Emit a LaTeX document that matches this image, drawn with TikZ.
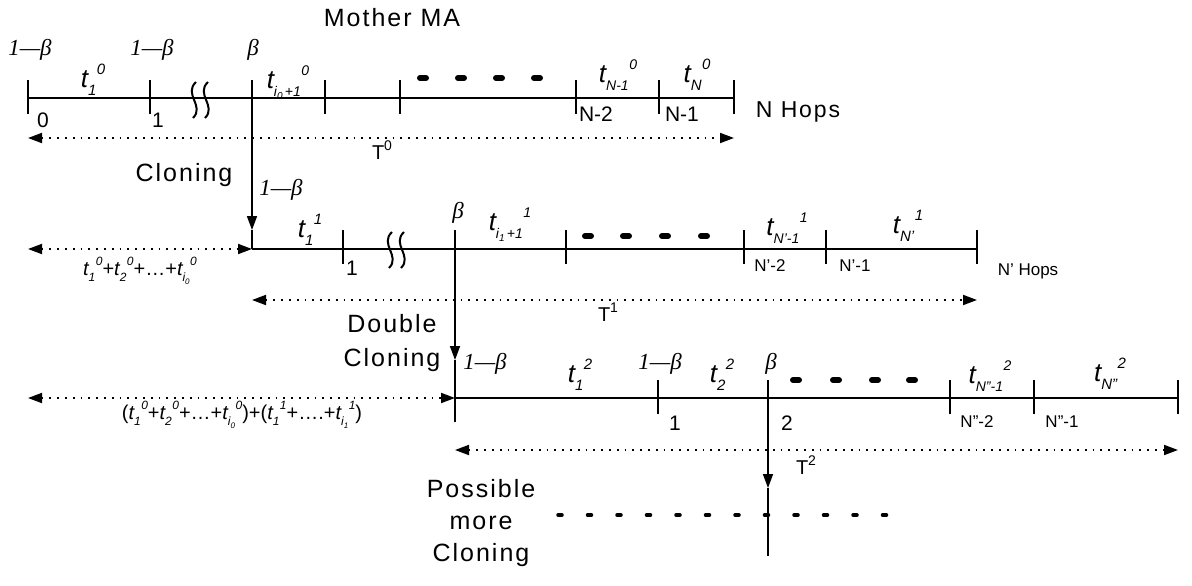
\documentclass[tikz,border=0pt]{standalone}
\usepackage{fontspec}
\setmainfont{Liberation Sans}
\newfontfamily\spaced[LetterSpace=8]{Liberation Sans}
\newfontfamily\serif{Liberation Serif}
\usetikzlibrary{arrows.meta}

\newcommand\fs[1]{\fontsize{#1}{#1}\selectfont}
% italic hop time: t, lowered index, raised stage number
\newcommand\tsub[3]{{\itshape t\raisebox{-0.3em}{\fs{#1}#2}\kern0.5pt\raisebox{0.5em}{\fs{#1}#3}}}
% total time with stage number
\newcommand\Ttot[1]{T\raisebox{0.45em}{\fs{14}#1}}
\newcommand\bet{{\serif\itshape β}}
\newcommand\omb{{\serif\itshape 1—β}}

\tikzset{pics/breakmark/.style={code={
  \foreach \dx in {-6,6}
    \draw[line width=2pt] (\dx+3,-18) .. controls (\dx-10,-6) and (\dx+12,6) .. (\dx,18);
}}}

\begin{document}
\begin{tikzpicture}[x=1pt,y=-1pt,
  timeline/.style={line width=2.4pt},
  tickmark/.style={line width=1.4pt},
  drop/.style={line width=1.6pt},
  span/.style={line width=1.8pt, dash pattern=on 1.8pt off 6pt,
    {Triangle[length=14pt,width=10pt]}-{Triangle[length=14pt,width=10pt]}},
  bar/.style={line width=6pt, line cap=round},
  lbl/.style={inner sep=0pt, font=\spaced\fs{25}},
  greek/.style={inner sep=0pt, font=\fs{23}},
  tvar/.style={inner sep=0pt, font=\fs{26}},
  tvarsmall/.style={inner sep=0pt, font=\fs{20}},
  idx/.style={inner sep=0pt, font=\fs{21}},
  idxsmall/.style={inner sep=0pt, font=\fs{17}},
  tip/.style={-{Triangle[length=14pt,width=10pt]}}
]
\useasboundingbox (0,0) rectangle (1192,586);

% ---------------- mother agent ----------------
\node[lbl] (mother) at (392,18) {Mother MA};
\coordinate (a0) at (28,98);
\coordinate (a7) at (734,98);
\draw[timeline] (a0) -- (a7);
\foreach \x in {28,150,325,400,576,659,734}
  \draw[tickmark] (\x,80) -- (\x,114);
\pic at (199,100) {breakmark};
\foreach \x in {423,461,499,537}
  \draw[bar] (\x-3,78) -- (\x+3,78);

\node[greek] (p00) at (30,50) {\omb};
\node[greek] (p01) at (152,50) {\omb};
\node[greek] (p02) at (253,50) {\bet};
\node[tvar] (t01) at (93,80) {\tsub{15}{1}{0}};
\node[tvar] (t0i) at (288,83) {\tsub{14}{i\raisebox{-0.25em}{\fs{10}0}\,+1}{0}};
\node[tvar] (t0n1) at (618,75) {\tsub{14}{N-1}{0}};
\node[tvar] (t0n) at (697,75) {\tsub{15}{N}{0}};

\node[idx] at (43,120) {0};
\node[idx] at (158,120) {1};
\node[idx] at (596,114) {N-2};
\node[idx] at (682,114) {N-1};
\node[inner sep=0pt, font=\spaced\fs{23}] (hops0) at (798,112) {N Hops};

\coordinate (s0l) at (28,138);
\coordinate (s0r) at (734,138);
\draw[span] (s0l) -- (s0r);
\node[inner sep=0pt, font=\fs{20}] (T0) at (382,150) {\Ttot{0}};

% ---------------- first clone ----------------
\node[lbl] (clone1) at (184,175) {Cloning};
\coordinate (d1top) at (252,80);
\coordinate (d1tip) at (252,230);
\coordinate (b0) at (252,249);
\draw[drop,tip] (d1top) -- (d1tip);
\draw[drop] (d1tip) -- (b0);
\node[greek] (p10) at (281,190) {\omb};

\coordinate (b7) at (977,249);
\draw[timeline] (b0) -- (b7);
\foreach \x in {343,566,744,826,977}
  \draw[tickmark] (\x,230) -- (\x,264);
\pic at (395,250) {breakmark};
\foreach \x in {588,626,665,704}
  \draw[bar] (\x-3,236) -- (\x+3,236);

\node[tvar] (t11) at (310,230) {\tsub{15}{1}{1}};
\node[greek] (p12) at (458,213) {\bet};
\node[tvar] (t1i) at (510,225) {\tsub{14}{i\raisebox{-0.25em}{\fs{10}1}\,+1}{1}};
\node[tvar] (t1n1) at (787,228) {\tsub{14}{N'-1}{1}};
\node[tvar] (t1n) at (908,226) {\tsub{15}{N'}{1}};

\node[idx] at (352,268) {1};
\node[idxsmall] at (770,266) {N'-2};
\node[idxsmall] at (855,266) {N'-1};
\node[inner sep=0pt, font=\fs{17}] (hops1) at (1028,271) {N' Hops};

\coordinate (s1l) at (28,249);
\draw[span] (s1l) -- (b0);
\node[tvarsmall] (sum1) at (140,271)
  {\tsub{12}{1}{0}+\tsub{12}{2}{0}+\dots+\tsub{12}{i\raisebox{-0.25em}{\fs{8}0}}{0}};
\coordinate (s1r) at (977,300);
\coordinate (s1a) at (252,300);
\draw[span] (s1a) -- (s1r);
\node[inner sep=0pt, font=\fs{20}] (T1) at (608,312) {\Ttot{1}};

% ---------------- second clone ----------------
\node[lbl, align=center, font=\spaced\fontsize{25}{34}\selectfont] (clone2) at (392,343) {Double\\Cloning};
\coordinate (d2top) at (455,230);
\coordinate (d2tip) at (455,360);
\coordinate (d2end) at (455,422);
\draw[drop,tip] (d2top) -- (d2tip);
\draw[drop] (d2tip) -- (d2end);

\coordinate (c0) at (455,398);
\coordinate (c7) at (1178,398);
\draw[timeline] (c0) -- (c7);
\foreach \x in {658,950,1034,1178}
  \draw[tickmark] (\x,380) -- (\x,414);
\foreach \x in {796,836,875,912}
  \draw[bar] (\x-3,380) -- (\x+3,380);

\node[greek] (p20) at (485,364) {\omb};
\node[tvar] (t21) at (580,375) {\tsub{15}{1}{2}};
\node[greek] (p21) at (660,364) {\omb};
\node[tvar] (t22) at (722,375) {\tsub{15}{2}{2}};
\node[greek] (p22) at (771,364) {\bet};
\node[tvar] (t2n1) at (990,376) {\tsub{14}{N"-1}{2}};
\node[tvar] (t2n) at (1110,374) {\tsub{15}{N"}{2}};

\node[idx] at (675,423) {1};
\node[idx] at (787,423) {2};
\node[idxsmall] at (977,422) {N"-2};
\node[idxsmall] at (1062,422) {N"-1};

\coordinate (s2l) at (28,398);
\draw[span] (s2l) -- (c0);
\node[tvarsmall] (sum2) at (242,415)
  {(\tsub{12}{1}{0}+\tsub{12}{2}{0}+\dots+\tsub{12}{i\raisebox{-0.25em}{\fs{8}0}}{0})+(\tsub{12}{1}{1}+\dots.+\tsub{12}{i\raisebox{-0.25em}{\fs{8}1}}{1})};
\coordinate (s2a) at (455,450);
\coordinate (s2r) at (1178,450);
\draw[span] (s2a) -- (s2r);
\node[inner sep=0pt, font=\fs{20}] (T2) at (806,465) {\Ttot{2}};

% ---------------- further clones ----------------
\coordinate (d3top) at (768,380);
\coordinate (d3tip) at (768,488);
\coordinate (d3end) at (768,556);
\draw[drop,tip] (d3top) -- (d3tip);
\draw[drop] (d3tip) -- (d3end);
\node[lbl, align=center, font=\spaced\fontsize{25}{32}\selectfont] (clone3) at (481,523) {Possible\\more\\Cloning};
\foreach \i in {0,...,11}
  \draw[line width=3.5pt, line cap=round] (558+\i*29.5,515) -- (562+\i*29.5,515);
\end{tikzpicture}
\end{document}
